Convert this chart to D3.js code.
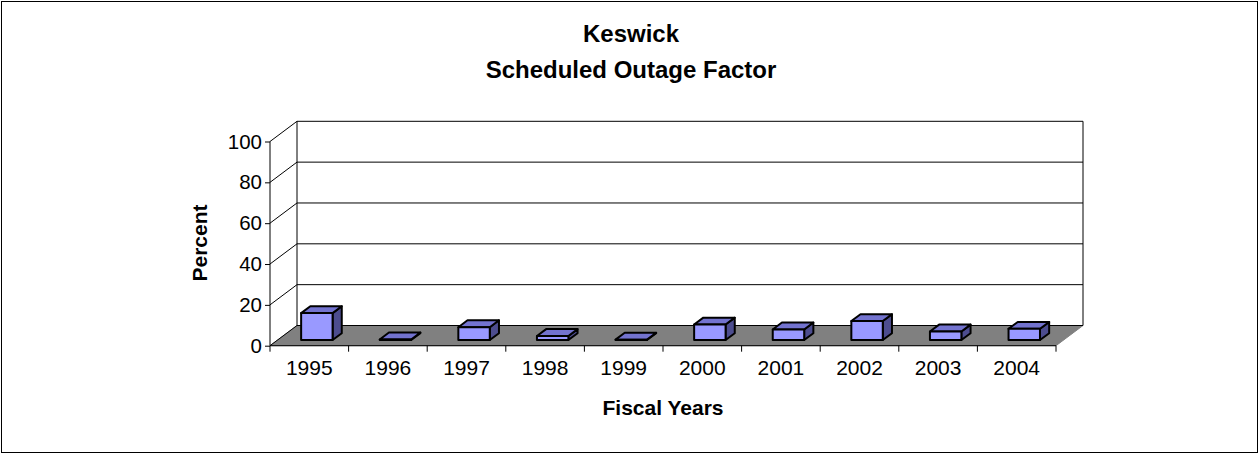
<!DOCTYPE html>
<html><head><meta charset="utf-8">
<script src="https://cdn.jsdelivr.net/npm/d3@7"></script>
<style>html,body{margin:0;padding:0;background:#fff}svg{display:block}</style>
</head><body>
<script>
const categories = ["1995","1996","1997","1998","1999","2000","2001","2002","2003","2004"];
const values = [13.2, 0.3, 6.3, 2.0, 0.2, 7.6, 5.2, 9.3, 4.2, 5.5];
const yTicks = [0, 20, 40, 60, 80, 100];
const titleLines = ["Keswick", "Scheduled Outage Factor"];
const xTitle = "Fiscal Years";
const yTitle = "Percent";

const W = 1260, H = 454;
const svg = d3.select("body").append("svg").attr("width", W).attr("height", H)
  .style("font-family", "'Liberation Sans', Arial, sans-serif");

const x0 = 270, x1 = 1056, yBase = 345.7, yTop = 141.5;
const DX = 27, DY = -20.2;
const x = d3.scaleBand().domain(categories).range([x0, x1]).paddingInner(0).paddingOuter(0);
const y = d3.scaleLinear().domain([0, 100]).range([yBase, yTop]);
const P = (px, v, f) => [px + f * DX, y(v) + f * DY];
const line = d3.line();

// outer border
svg.append("rect").attr("x", 1.5).attr("y", 1.5).attr("width", W - 4).attr("height", H - 3)
  .attr("fill", "#fff").attr("stroke", "#000").attr("stroke-width", 1);

// back wall
svg.append("path").attr("d", line([P(x0,0,1),P(x1,0,1),P(x1,100,1),P(x0,100,1)]) + "Z")
  .attr("fill", "#fff").attr("stroke", "none");
// floor
svg.append("path").attr("d", line([P(x0,0,0),P(x1,0,0),P(x1,0,1),P(x0,0,1)]) + "Z")
  .attr("fill", "#808080").attr("stroke", "#808080").attr("stroke-width", 1);

const g = svg.append("g").attr("stroke", "#000").attr("stroke-width", 1).attr("fill", "none");
yTicks.forEach(v => {
  g.append("path").attr("d", line([P(x0,v,1), P(x1,v,1)]));
  g.append("path").attr("d", line([P(x0,v,0), P(x0,v,1)]));
});
g.append("path").attr("d", line([P(x0,0,1), P(x0,100,1)]));
g.append("path").attr("d", line([P(x1,0,1), P(x1,100,1)]));

// bars
const f0 = 0.28, f1 = 0.62;
const bw = x.bandwidth() * 0.4;
const bars = svg.append("g").attr("stroke", "#000").attr("stroke-width", 2).attr("stroke-linejoin", "round");
categories.forEach((c, i) => {
  const v = values[i];
  const cx = x(c) + x.bandwidth() / 2;
  const L = cx - bw / 2, R = cx + bw / 2;
  bars.append("path").attr("d", line([P(R,0,f0),P(R,0,f1),P(R,v,f1),P(R,v,f0)]) + "Z").attr("fill", "#4d4d8f");
  bars.append("path").attr("d", line([P(L,v,f0),P(R,v,f0),P(R,v,f1),P(L,v,f1)]) + "Z").attr("fill", "#7373cf");
  bars.append("path").attr("d", line([P(L,0,f0),P(R,0,f0),P(R,v,f0),P(L,v,f0)]) + "Z").attr("fill", "#9999ff");
});

// y axis
const yAxis = svg.append("g").attr("transform", `translate(${x0},0)`)
  .call(d3.axisLeft(y).tickValues(yTicks).tickSize(5).tickPadding(3).tickFormat(d3.format("d")));
yAxis.select(".domain").attr("stroke", "#000").attr("d", `M0,${yBase}V${yTop}`);
yAxis.selectAll(".tick line").attr("stroke", "#000");
yAxis.selectAll("text").attr("font-size", 20.5).attr("fill", "#000")
  .attr("font-family", "'Liberation Sans', Arial, sans-serif");

// x axis
const xg = svg.append("g").attr("stroke", "#000").attr("stroke-width", 1);
xg.append("path").attr("d", line([[x0, yBase], [x1, yBase]]));
[...categories.map(c => x(c)), x1].forEach(px => {
  xg.append("path").attr("d", line([[px, yBase], [px, yBase + 6]]));
});
svg.append("g").selectAll("text").data(categories).join("text")
  .attr("x", d => x(d) + x.bandwidth() / 2).attr("y", 375)
  .attr("text-anchor", "middle").attr("font-size", 21).text(d => d);

// titles
svg.append("text").attr("x", 631).attr("y", 42).attr("text-anchor", "middle")
  .attr("font-size", 24).attr("font-weight", "bold").text(titleLines[0]);
svg.append("text").attr("x", 631).attr("y", 78).attr("text-anchor", "middle")
  .attr("font-size", 24).attr("font-weight", "bold").text(titleLines[1]);
svg.append("text").attr("x", 663).attr("y", 415).attr("text-anchor", "middle")
  .attr("font-size", 21).attr("font-weight", "bold").text(xTitle);
svg.append("text").attr("transform", "translate(207,243) rotate(-90)").attr("text-anchor", "middle")
  .attr("font-size", 21).attr("font-weight", "bold").text(yTitle);
</script>
</body></html>
